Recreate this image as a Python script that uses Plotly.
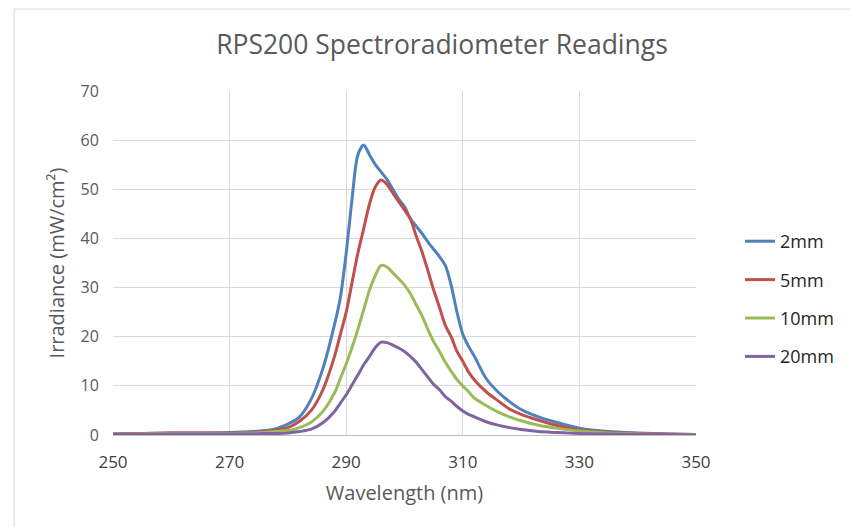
import plotly.graph_objects as go

wavelength = [250, 255, 260, 265, 270, 274, 276, 278, 280, 282, 284, 286, 288, 289, 290,
              291, 292, 293, 294, 295, 296, 297, 298, 299, 300, 301, 302, 303, 304, 305,
              306, 307, 308, 309, 310, 311, 312, 314, 316, 318, 320, 323, 326, 330, 335,
              340, 345, 350]

mm2 = [0.2, 0.3, 0.4, 0.4, 0.5, 0.7, 0.9, 1.3, 2.2, 3.7, 7.3, 13.5, 22.5, 28, 37,
       48, 57, 59, 57, 55, 53.5, 52, 50, 48, 46.5, 44, 42.5, 41, 39.3, 37.8,
       36.3, 34.5, 30.5, 25, 20.5, 18, 16, 11.5, 8.8, 6.8, 5.2, 3.7, 2.6, 1.4, 0.7,
       0.4, 0.2, 0.1]

mm5 = [0.2, 0.3, 0.4, 0.4, 0.4, 0.5, 0.7, 1.0, 1.5, 2.8, 5.0, 9.2, 16, 20.5, 25,
       31, 37, 42, 47, 50.5, 51.9, 51, 49.2, 47.5, 45.8, 44, 40.5, 37.3, 33.5, 29.5,
       26, 22.3, 20, 17, 15, 12.8, 11.2, 8.8, 7, 5.3, 4.2, 3.0, 2.0, 1.0, 0.5,
       0.3, 0.2, 0.1]

mm10 = [0.1, 0.2, 0.3, 0.3, 0.3, 0.4, 0.5, 0.7, 0.9, 1.5, 2.6, 4.8, 8.6, 11.5, 14.5,
        17.8, 21.5, 25.5, 29.5, 32.5, 34.5, 34.2, 33, 31.8, 30.5, 28.8, 26.5, 24.3, 21.5, 19,
        17, 14.8, 13, 11.3, 10, 8.8, 7.5, 6.0, 4.7, 3.7, 2.9, 2.0, 1.4, 0.8, 0.4,
        0.2, 0.1, 0.1]

mm20 = [0.1, 0.1, 0.2, 0.2, 0.2, 0.2, 0.3, 0.3, 0.4, 0.7, 1.2, 2.5, 4.8, 6.5, 8.2,
        10.2, 12.2, 14.3, 16, 17.8, 18.9, 18.8, 18.3, 17.7, 17, 16, 14.8, 13.3, 11.8, 10.3,
        9.2, 7.8, 6.9, 5.8, 4.9, 4.2, 3.7, 2.7, 2.0, 1.5, 1.1, 0.7, 0.5, 0.3, 0.2,
        0.1, 0.1, 0.0]

series_names = ["2mm", "5mm", "10mm", "20mm"]
series_values = [mm2, mm5, mm10, mm20]
colors = ["#4F81BD", "#C0504D", "#9BBB59", "#8064A2"]

FONT = "Open Sans"

fig = go.Figure()
for i, (name, vals, col) in enumerate(zip(series_names, series_values, colors)):
    fig.add_trace(go.Scatter(
        x=wavelength, y=vals, name=name, mode="lines",
        line=dict(color=col, width=3, shape="spline", smoothing=0.8),
        legendgroup=f"g{i}",
    ))

fig.update_layout(
    width=850, height=527,
    margin=dict(l=113, r=153, t=91, b=92),
    paper_bgcolor="white", plot_bgcolor="white",
    font=dict(family=FONT, color="#595959"),
    title=dict(text="RPS200 Spectroradiometer Readings", x=442 / 850, xanchor="center",
               xref="container", y=1 - 45 / 527, yanchor="middle",
               font=dict(size=26.5, color="#595959", family=FONT)),
    showlegend=True,
    legend=dict(x=(740 - 113) / 584, xanchor="left", y=(435 - 223) / 344, yanchor="top",
                font=dict(size=18, color="#262626", family=FONT),
                tracegroupgap=12, itemwidth=30, bgcolor="rgba(0,0,0,0)"),
    xaxis=dict(range=[250, 350], tickvals=[250, 270, 290, 310, 330, 350],
               showgrid=True, gridcolor="#d9d9d9", gridwidth=1,
               showline=True, linecolor="#bfbfbf", linewidth=1,
               zeroline=False, ticks="outside", ticklen=12, tickcolor="rgba(0,0,0,0)",
               tickfont=dict(size=17, color="#404040", family=FONT),
               title=dict(text="Wavelength (nm)", font=dict(size=20, color="#595959", family=FONT),
                          standoff=13)),
    yaxis=dict(range=[0, 70], dtick=10,
               showgrid=True, gridcolor="#d9d9d9", gridwidth=1,
               showline=False, zeroline=False, ticks="outside", ticklen=10,
               tickcolor="rgba(0,0,0,0)",
               tickfont=dict(size=16, color="#595959", family=FONT),
               title=dict(text="Irradiance (mW/cm²)", font=dict(size=20, color="#595959", family=FONT),
                          standoff=10)),
)

# chart area border
fig.add_shape(type="rect", xref="paper", yref="paper",
              x0=(14 - 113) / 584, x1=(870 - 113) / 584,
              y0=(435 - 560) / 344, y1=(435 - 9) / 344,
              line=dict(color="#d9d9d9", width=1), fillcolor="rgba(0,0,0,0)", layer="below")

fig.write_html("out.html")
